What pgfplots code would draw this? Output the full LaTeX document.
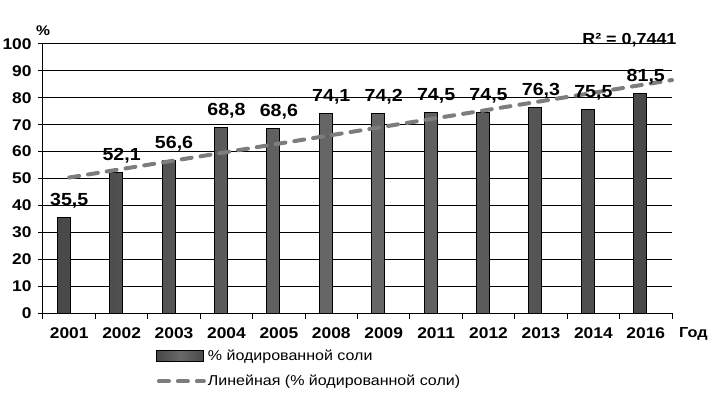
\documentclass[border=0pt]{standalone}
\usepackage{fontspec}
\setmainfont{Liberation Sans}[FakeStretch=1.12]
\usepackage{pgfplots}
\pgfplotsset{compat=1.18}
\usetikzlibrary{calc}
\definecolor{barc}{RGB}{72,72,72}
\definecolor{barm}{RGB}{105,105,105}
\definecolor{trend}{RGB}{125,125,125}
\begin{document}
\begin{tikzpicture}
\begin{axis}[
  name=ax,
  scale only axis,
  width=629pt, height=269pt,
  ymin=0, ymax=100,
  xmin=-0.5, xmax=11.5,
  ytick={0,10,...,100},
  xtick={0,...,11},
  xticklabels={2001,2002,2003,2004,2005,2008,2009,2011,2012,2013,2014,2016},
  minor xtick={-0.5,0.5,...,11.5},
  major x tick style={draw=none},
  minor x tick style={black, line width=1pt},
  minor tick length=6pt,
  major tick length=5pt,
  tick align=outside,
  axis lines*=left,
  axis line style={black, line width=1pt},
  ytick style={black, line width=1pt},
  ymajorgrids,
  grid style={black, line width=1pt},
  /pgf/number format/assume math mode=true,
  /pgf/number format/use comma,
  tick label style={font=\fontsize{15.5}{17}\selectfont\bfseries},
  yticklabel style={xshift=-3pt},
  xticklabel style={yshift=-6pt},
  legend style={at={(axis description cs:0.18,-0.13)}, anchor=north west, draw=none, fill=none,
    font=\fontsize{14.3}{16}\selectfont, row sep=9pt, inner sep=0pt,
    cells={anchor=west}},
  legend cell align=left,
  clip=false,
]
\addplot[ybar, bar width=13pt, bar shift=-5.5pt, draw=black, line width=1pt,
  left color=barc, right color=barc, middle color=barm,
  nodes near coords,
  point meta=y,
  every node near coord/.append style={font=\fontsize{17.5}{19}\selectfont\bfseries, anchor=base, yshift=12pt,
    /pgf/number format/fixed, /pgf/number format/fixed zerofill, /pgf/number format/precision=1},
  legend image code/.code={\draw[draw=black, line width=1pt, left color=barc, right color=barc, middle color=barm] (0pt,-5pt) rectangle (47pt,6pt);}
] coordinates {
(0,35.5) (1,52.1) (2,56.6) (3,68.8) (4,68.6) (5,74.1) (6,74.2) (7,74.5) (8,74.5) (9,76.3) (10,75.5) (11,81.5)
};
\addlegendentry{\% йодированной соли}
\addplot[trend, line width=4pt, line cap=round, dash pattern=on 10pt off 9pt,
  legend image code/.code={\draw[trend, line width=4pt, line cap=round, dash pattern=on 10pt off 9pt] (2pt,0pt) -- (47pt,0pt);}
] coordinates {(0,50.36) (11.5,86.6)};
\addlegendentry{Линейная (\% йодированной соли)}
\end{axis}
\node[font=\fontsize{14}{16}\selectfont\bfseries] at ($(ax.north west)+(0pt,13pt)$) {\%};
\node[font=\fontsize{14.5}{16}\selectfont\bfseries, anchor=base west, inner sep=0pt] at ($(ax.south east)+(7pt,-24pt)$) {Год};
\node[font=\fontsize{16}{18}\selectfont\bfseries, anchor=base east] at ($(ax.north east)+(8pt,-1pt)$) {R² = 0,7441};
\pgfresetboundingbox
\path ($(ax.south west)+(-43pt,-83pt)$) rectangle ($(ax.north east)+(37pt,44pt)$);
\end{tikzpicture}
\end{document}
